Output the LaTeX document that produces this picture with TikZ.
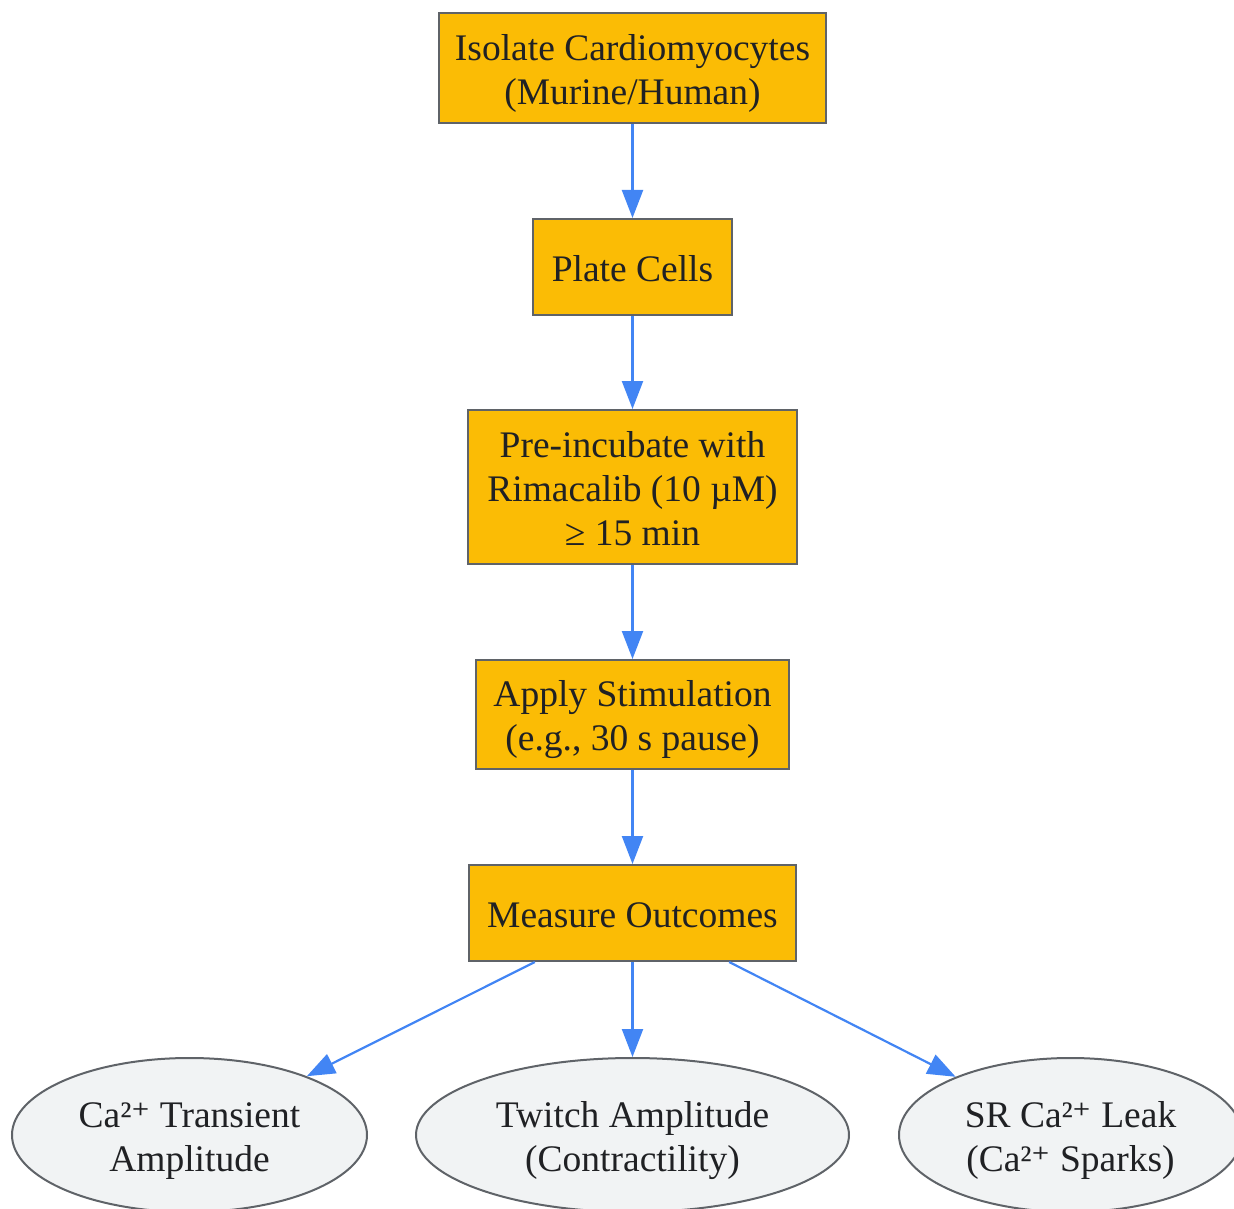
\documentclass[tikz,border=0pt]{standalone}
\usepackage{fontspec}
\setmainfont{Liberation Serif}
\newfontfamily\supfont{DejaVu Serif}
\usetikzlibrary{shapes.geometric,arrows.meta}
\definecolor{boxfill}{HTML}{FBBC05}
\definecolor{boxline}{HTML}{5F6368}
\definecolor{arrowc}{HTML}{4285F4}
\definecolor{ellfill}{HTML}{F1F3F4}
\definecolor{txt}{HTML}{202124}
\newcommand{\lifttext}[1]{\raisebox{-5.5pt}[\height][\depth]{\begin{tabular}{@{}c@{}}#1\end{tabular}}}
\newcommand{\caion}{Ca²{\supfont\fontsize{36}{36}\selectfont ⁺}}
\tikzset{
  stepbox/.style={draw=boxline, line width=2pt, fill=boxfill, text=txt, inner sep=0pt,
    font=\fontsize{37.5}{44}\selectfont},
  outcome/.style={ellipse, draw=boxline, line width=2pt, fill=ellfill, text=txt, inner sep=0pt,
    font=\fontsize{37.5}{44}\selectfont},
  conn/.style={draw=arrowc, line width=2.2pt, -{Triangle[length=28pt,width=21pt]}},
}
\begin{document}
\begin{tikzpicture}[x=1pt,y=-1pt]
\useasboundingbox (0,0) rectangle (1234,1209);
\clip (0,0) rectangle (1234,1209);
\node[stepbox, minimum width=387pt, minimum height=110pt] (n1) at (632.5,68) {\lifttext{Isolate Cardiomyocytes\\(Murine/Human)}};
\node[stepbox, minimum width=199pt, minimum height=96pt] (n2) at (632.5,267) {\lifttext{Plate Cells}};
\node[stepbox, minimum width=329pt, minimum height=154pt] (n3) at (632.5,487) {\lifttext{Pre-incubate with\\Rimacalib (10 µM)\\≥ 15 min}};
\node[stepbox, minimum width=313pt, minimum height=109pt] (n4) at (632.5,714.5) {\lifttext{Apply Stimulation\\(e.g., 30 s pause)}};
\node[stepbox, minimum width=327pt, minimum height=96pt] (n5) at (632.5,913) {\lifttext{Measure Outcomes}};
\node[outcome, minimum width=355pt, minimum height=154pt] (e1) at (189.5,1135) {\lifttext{\caion{} Transient\\Amplitude}};
\node[outcome, minimum width=433pt, minimum height=154pt] (e2) at (632.5,1135) {\lifttext{Twitch Amplitude\\(Contractility)}};
\node[outcome, minimum width=343pt, minimum height=154pt] (e3) at (1070.5,1135) {\lifttext{SR \caion{} Leak\\(\caion{} Sparks)}};
\draw[conn] (n1) -- (n2);
\draw[conn] (n2) -- (n3);
\draw[conn] (n3) -- (n4);
\draw[conn] (n4) -- (n5);
\draw[conn] (n5) -- (e1);
\draw[conn] (n5) -- (e2);
\draw[conn] (n5) -- (e3);
\end{tikzpicture}
\end{document}
